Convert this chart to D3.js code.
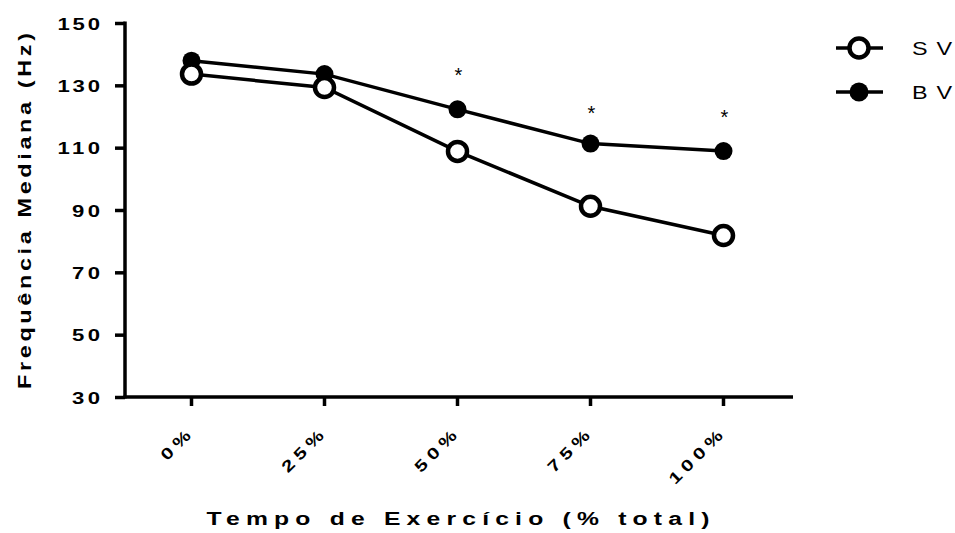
<!DOCTYPE html>
<html>
<head>
<meta charset="utf-8">
<script src="https://cdn.jsdelivr.net/npm/d3@7"></script>
<style>
  html, body { margin: 0; padding: 0; background: #fff; }
  svg { display: block; font-family: "Liberation Sans", Arial, sans-serif; }
</style>
</head>
<body>
<svg id="chart" width="955" height="533"></svg>
<script>
// Exercise time points and median frequency (Hz) per condition
const categories = ["0%", "25%", "50%", "75%", "100%"];
const svValues = [133.6, 129.3, 108.8, 91.2, 81.8];
const bvValues = [137.9, 133.6, 122.3, 111.3, 108.9];
// significance markers (category, height in Hz)
const sigCategories = ["50%", "75%", "100%"];
const sigHeights = [133.9, 121.7, 120.4];
const yTicks = [30, 50, 70, 90, 110, 130, 150];

const FONT = "'Liberation Sans', Arial, sans-serif";
const WIDE = 1.3; // horizontal glyph stretch used for all labels
const svg = d3.select("#chart");
const plotLeft = 125, plotRight = 790, plotTop = 23, plotBottom = 397;

const x = d3.scaleBand().domain(categories).range([plotLeft, plotRight]);
const cx = c => x(c) + x.bandwidth() / 2;
const y = d3.scaleLinear().domain([30, 150]).range([plotBottom, plotTop]);

// Y axis
const yAxis = svg.append("g").attr("transform", `translate(${plotLeft},0)`)
  .call(d3.axisLeft(y).tickValues(yTicks).tickSize(10).tickSizeOuter(0));
yAxis.select(".domain").attr("stroke", "#000").attr("stroke-width", 3.5)
  .attr("d", `M0,${plotTop - 1.5}V${plotBottom + 1.5}`);
yAxis.selectAll(".tick line").attr("stroke", "#000").attr("stroke-width", 3.5);
yAxis.selectAll(".tick text")
  .attr("x", null)
  .attr("transform", `translate(-25,0) scale(${WIDE},1)`)
  .attr("fill", "#000").attr("font-size", 17).attr("font-weight", "bold")
  .attr("textLength", d => (String(d).length * 14.5 - 1) / WIDE).attr("lengthAdjust", "spacing")
  .attr("dy", "0.36em")
  .style("font-family", FONT);

// X axis
const xAxis = svg.append("g").attr("transform", `translate(0,${plotBottom})`)
  .call(d3.axisBottom(x).tickSize(9).tickSizeOuter(0));
xAxis.select(".domain").attr("stroke", "#000").attr("stroke-width", 3.5)
  .attr("d", `M${plotLeft - 1.5},0H${plotRight + 3}`);
xAxis.selectAll(".tick line").attr("stroke", "#000").attr("stroke-width", 3.5);
xAxis.selectAll(".tick text")
  .attr("fill", "#000").attr("font-size", 16).attr("font-weight", "bold")
  .attr("letter-spacing", 4)
  .attr("text-anchor", "end")
  .attr("y", 0).attr("dy", 0)
  .attr("transform", `translate(4,36) rotate(-45) scale(${WIDE},1)`)
  .style("font-family", FONT);

// Axis titles
svg.append("text")
  .attr("transform", `translate(458,525) scale(${WIDE},1)`)
  .attr("text-anchor", "middle")
  .attr("font-size", 19).attr("font-weight", "bold")
  .attr("textLength", 503 / WIDE).attr("lengthAdjust", "spacing")
  .text("Tempo de Exercício (% total)");

svg.append("text")
  .attr("transform", `translate(31,211) rotate(-90) scale(${WIDE},1)`)
  .attr("text-anchor", "middle")
  .attr("font-size", 18).attr("font-weight", "bold")
  .attr("textLength", 356 / WIDE).attr("lengthAdjust", "spacing")
  .text("Frequência Mediana (Hz)");

// Lines
const line = d3.line().x((d, i) => cx(categories[i])).y(d => y(d));
svg.append("path").datum(bvValues).attr("d", line)
  .attr("fill", "none").attr("stroke", "#000").attr("stroke-width", 3.5);
svg.append("path").datum(svValues).attr("d", line)
  .attr("fill", "none").attr("stroke", "#000").attr("stroke-width", 3.5);

// Markers
svg.selectAll(".bv").data(bvValues).join("circle")
  .attr("cx", (d, i) => cx(categories[i])).attr("cy", d => y(d))
  .attr("r", 9).attr("fill", "#000");
svg.selectAll(".sv").data(svValues).join("circle")
  .attr("cx", (d, i) => cx(categories[i])).attr("cy", d => y(d))
  .attr("r", 9.5).attr("fill", "#fff").attr("stroke", "#000").attr("stroke-width", 4.5);

// Significance asterisks
svg.selectAll(".sig").data(sigHeights).join("text")
  .attr("x", (d, i) => cx(sigCategories[i]) + 1).attr("y", d => y(d) + 9)
  .attr("text-anchor", "middle").attr("font-size", 20)
  .text("*");

// Legend
const legend = [{ name: "SV", open: true, yy: 48 }, { name: "BV", open: false, yy: 92 }];
const lg = svg.append("g");
legend.forEach(l => {
  lg.append("line").attr("x1", 836).attr("x2", 883).attr("y1", l.yy).attr("y2", l.yy)
    .attr("stroke", "#000").attr("stroke-width", 3.5);
  if (l.open) {
    lg.append("circle").attr("cx", 859).attr("cy", l.yy).attr("r", 9.5)
      .attr("fill", "#fff").attr("stroke", "#000").attr("stroke-width", 4.5);
  } else {
    lg.append("circle").attr("cx", 859).attr("cy", l.yy).attr("r", 9.5).attr("fill", "#000");
  }
  lg.append("text")
    .attr("transform", `translate(912,${l.yy + 7}) scale(${WIDE},1)`)
    .attr("font-size", 18)
    .attr("textLength", 40 / WIDE).attr("lengthAdjust", "spacing")
    .text(l.name);
});
</script>
</body>
</html>
